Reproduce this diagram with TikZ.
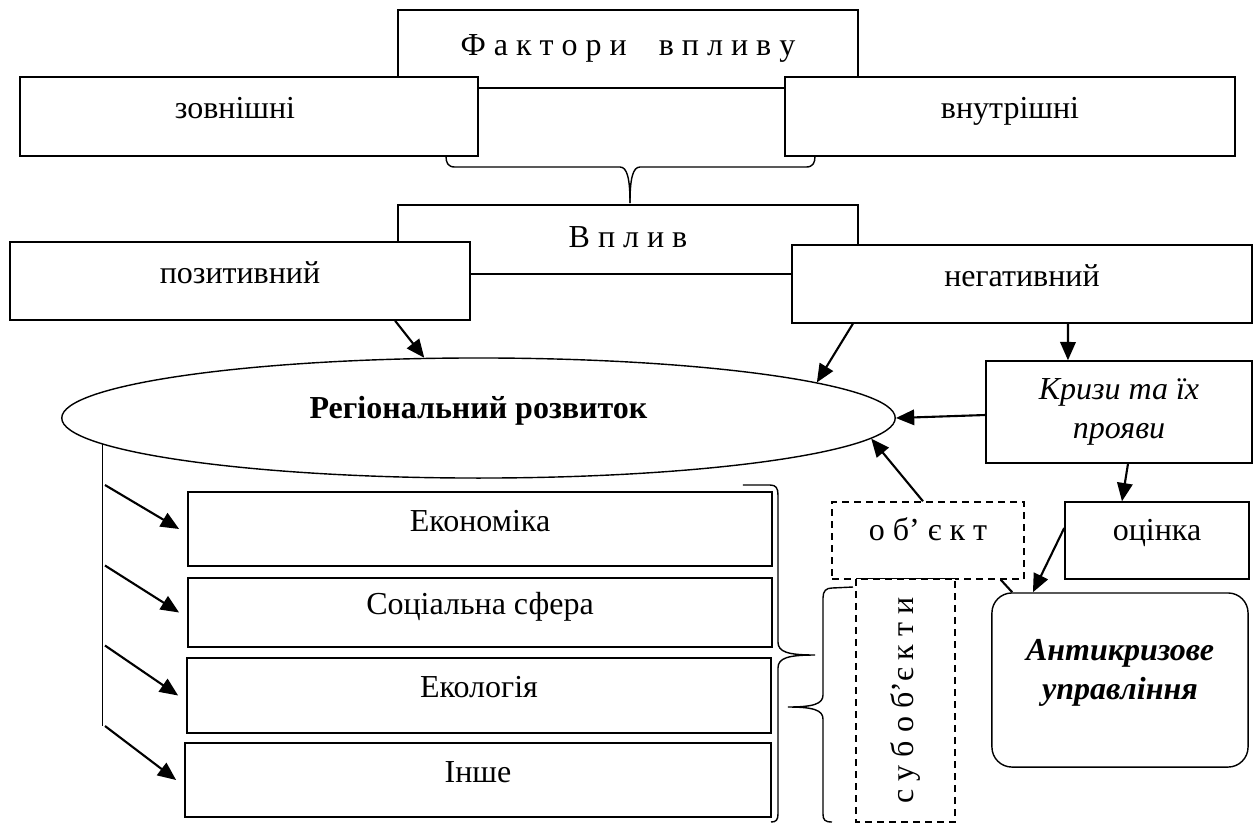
\documentclass[tikz,border=0pt]{standalone}
\usepackage{fontspec}
\setmainfont{Liberation Serif}
\usetikzlibrary{shapes}
\usetikzlibrary{arrows.meta}
\usetikzlibrary{calc}

\newcommand{\diagfont}{\fontsize{9.1pt}{11pt}\selectfont}

\begin{document}
\begin{tikzpicture}[x=0.01cm, y=-0.01cm, font=\diagfont,
  box/.style={draw, fill=white, inner sep=0pt},
  lift/.style={text height=0.21cm, text depth=#1},
  lift/.default=0.17cm,
  dbox/.style={draw, fill=white, inner sep=0pt, dash pattern=on 0.07cm off 0.05cm},
  arr/.style={line width=0.6pt, -{Triangle[length=5.2pt,width=4.4pt]}}]

\useasboundingbox (0,0) rectangle (1256,823);

% factors of influence
\node[box, lift=0.09cm, minimum width=4.6cm, minimum height=0.78cm] (fakt) at (628,49) {Ф а к т о р и\quad в п л и в у};
\node[box, lift, minimum width=4.58cm, minimum height=0.79cm] (zovn) at (249,116.5) {\hspace*{-0.28cm}зовнішні};
\node[box, lift, minimum width=4.5cm, minimum height=0.79cm] (vnutr) at (1010,116.5) {внутрішні};

% brace under the factors
\draw (446,156) .. controls (446,163) and (448,167) .. (455,167) -- (620,167) .. controls (627,167) and (630,178) .. (630,203);
\draw (815,156) .. controls (815,163) and (813,167) .. (806,167) -- (640,167) .. controls (633,167) and (630,178) .. (630,203);

% influence
\node[box, lift=0.06cm, minimum width=4.6cm, minimum height=0.69cm] (vplyv) at (628,239.5) {В п л и в};
\node[box, lift, minimum width=4.6cm, minimum height=0.78cm] (poz) at (240,281) {позитивний};
\node[box, lift, minimum width=4.6cm, minimum height=0.78cm] (neg) at (1022,284) {негативний};

% regional development
\node[draw, ellipse, inner sep=0pt, lift=0.21cm, minimum width=8.33cm, minimum height=1.2cm, font=\diagfont\bfseries] (reg) at (478.5,418) {Регіональний розвиток};

\node[box, align=center, font=\diagfont\itshape, minimum width=2.66cm, minimum height=1.02cm] (kryzy) at (1119,412) {Кризи та їх\\прояви};
\node[dbox, lift=0.21cm, minimum width=1.92cm, minimum height=0.77cm] (obj) at (928,540.5) {о б’ є к т};
\node[box, lift=0.21cm, minimum width=1.84cm, minimum height=0.77cm] (ocinka) at (1157,540.5) {оцінка};
\node[box, rounded corners=0.2cm, minimum width=2.56cm, minimum height=1.74cm] (anti) at (1120,680) {};
\node[align=center, font=\diagfont\bfseries\itshape] (antitxt) at (1120,673) {Антикризове\\управління};
\node[dbox, rotate=90, minimum width=2.43cm, minimum height=0.99cm] (sub) at (905.5,700.5) {с у б о б’є к т и};

% spheres
\node[box, lift, minimum width=5.84cm, minimum height=0.74cm] (eco) at (480,529) {Економіка};
\node[box, lift, minimum width=5.84cm, minimum height=0.69cm] (soc) at (480,612.5) {Соціальна сфера};
\node[box, lift, minimum width=5.84cm, minimum height=0.75cm] (ecol) at (479,695.5) {Екологія};
\node[box, lift, minimum width=5.86cm, minimum height=0.74cm] (inshe) at (478,780) {Інше};

% arrows
\draw[arr] ([xshift=1.55cm]poz.south) -- (reg.132);
\draw[arr] ([xshift=-1.69cm]neg.south) -- (reg.6);
\draw[arr] ([xshift=0.46cm]neg.south) -- ([xshift=-0.51cm]kryzy.north);
\draw[arr] ([yshift=-0.03cm]kryzy.west) -- (reg.east);
\draw[arr] ([xshift=0.09cm]kryzy.south) -- ([xshift=-0.35cm]ocinka.north);
\draw[arr] ([yshift=0.125cm]ocinka.west) -- ([xshift=-0.87cm]anti.north);
\draw[arr] ([xshift=-0.05cm]obj.north) -- (reg.-3);
\draw[line width=0.6pt] ([xshift=-0.24cm]obj.south east) -- ([xshift=0.21cm]anti.north west);

% spine to the spheres
\coordinate (spine) at (105,726);
\draw (reg.184) -- (reg.184 |- spine);
\foreach \b/\dy in {eco/-44, soc/-47, ecol/-50, inshe/-54}
  \draw[arr] ($(\b.west -| spine)+(0,\dy)$) -- ([xshift=-0.08cm]\b.west);

% braces
\draw (743,485) -- (770,485) .. controls (776,485) and (778,488) .. (778,495) -- (778,642) .. controls (778,652) and (788,655) .. (815,655) .. controls (788,655) and (778,658) .. (778,668) -- (778,814) .. controls (778,820) and (776,822) .. (771,822);
\draw (853,587) -- (832,588) .. controls (826,588) and (823,591) .. (823,598) -- (823,695) .. controls (823,704) and (813,707) .. (788,707) .. controls (813,707) and (823,710) .. (823,719) -- (823,814) .. controls (823,820) and (825,822) .. (832,822);

\end{tikzpicture}
\end{document}
